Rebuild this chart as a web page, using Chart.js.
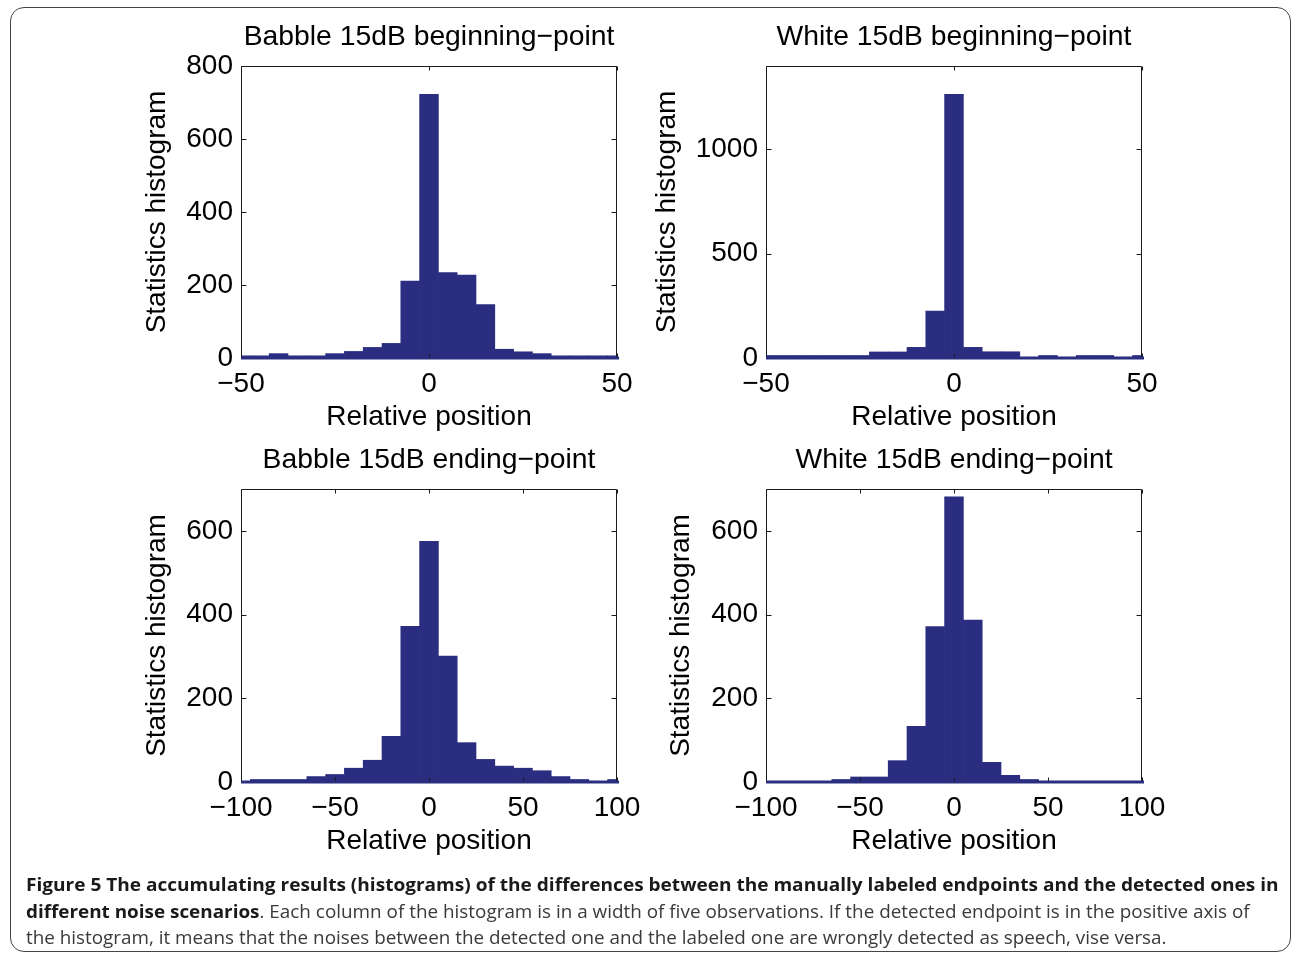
<!DOCTYPE html>
<html><head><meta charset="utf-8">
<script src="https://cdn.jsdelivr.net/npm/chart.js@4.4.1/dist/chart.umd.min.js"></script>
<style>
html,body{margin:0;padding:0;background:#fff;}
body{width:1292px;height:955px;position:relative;overflow:hidden;}
#frame{position:absolute;left:10px;top:7px;width:1281px;height:945px;border:1.5px solid #444;border-radius:14px;box-sizing:border-box;}
canvas{position:absolute;}
.cap{position:absolute;left:26px;white-space:nowrap;font-family:'Open Sans',sans-serif;font-size:18px;line-height:26px;height:26px;color:#3a3a3a;transform-origin:0 50%;}
.cap b{color:#1a1a1a;font-weight:700;}
</style></head>
<body>
<div id="frame"></div>
<canvas id="c1"></canvas>
<canvas id="c2"></canvas>
<canvas id="c3"></canvas>
<canvas id="c4"></canvas>
<div class="cap" id="l1" style="top:871px"><b>Figure 5 The accumulating results (histograms) of the differences between the manually labeled endpoints and the detected ones in</b></div>
<div class="cap" id="l2" style="top:898px"><b>different noise scenarios</b>. Each column of the histogram is in a width of five observations. If the detected endpoint is in the positive axis of</div>
<div class="cap" id="l3" style="top:924px">the histogram, it means that the noises between the detected one and the labeled one are wrongly detected as speech, vise versa.</div>
<script>
// ---- data ----
const binsBegin = [-50,-45,-40,-35,-30,-25,-20,-15,-10,-5,0,5,10,15,20,25,30,35,40,45,50];
const babbleBegin = [6,6,12,6,6,12,18,29,40,211,722,234,227,146,24,17,12,6,6,6,6];
const whiteBegin  = [12,12,12,12,12,12,29,29,51,225,1264,51,30,30,0,12,0,12,12,0,12];
const binsEnd = [-100,-90,-80,-70,-60,-50,-40,-30,-20,-10,0,10,20,30,40,50,60,70,80,90,100];
const babbleEnd = [0,6,6,6,13,18,33,52,109,372,575,301,94,54,38,33,27,13,6,0,6];
const whiteEnd  = [0,0,0,0,6,12,12,51,133,371,681,387,47,16,6,0,0,0,0,0,0];
const xTicksBegin = [-50,0,50];
const xTicksEnd = [-100,-50,0,50,100];
const yTicksBabbleBegin = [0,200,400,600,800];
const yTicksWhiteBegin = [0,500,1000];
const yTicksEnd = [0,200,400,600];
const titles = ['Babble 15dB beginning\u2212point','White 15dB beginning\u2212point','Babble 15dB ending\u2212point','White 15dB ending\u2212point'];

const BAR = '#2b2e80';
const FONT = "'Liberation Sans', Arial, Helvetica, sans-serif";
Chart.defaults.font.family = FONT;
Chart.defaults.color = '#000';

const fmt = v => v < 0 ? '\u2212' + Math.abs(v) : String(v);

const framePlugin = {
  id: 'frame',
  afterDatasetsDraw(chart) {
    const {ctx, chartArea: a, scales: {x, y}} = chart;
    ctx.save();
    ctx.strokeStyle = '#1a1a1a';
    ctx.lineWidth = 1;
    const L = Math.round(a.left) + 0.5, R = Math.round(a.right) - 0.5, T = Math.round(a.top) + 0.5, B = Math.round(a.bottom) - 0.5;
    ctx.beginPath();
    ctx.moveTo(L, B); ctx.lineTo(L, T); ctx.lineTo(R, T); ctx.lineTo(R, B);
    x.ticks.forEach(t => {
      const px = Math.round(x.getPixelForValue(t.value)) + 0.5;
      ctx.moveTo(px, T); ctx.lineTo(px, T + 4);
      ctx.moveTo(px, B); ctx.lineTo(px, B - 4);
    });
    y.ticks.forEach(t => {
      const py = Math.round(y.getPixelForValue(t.value)) + 0.5;
      ctx.moveTo(L, py); ctx.lineTo(L + 5, py);
      ctx.moveTo(R, py); ctx.lineTo(R - 5, py);
    });
    ctx.stroke();
    const y0 = y.getPixelForValue(0);
    ctx.fillStyle = BAR;
    ctx.fillRect(a.left, y0 - 1.5, a.right - a.left + 2, 3);
    ctx.restore();
  }
};

const panels = [
  {id:'c1', title:titles[0], bins:binsBegin, vals:babbleBegin, xmin:-50, xmax:50, ymax:800, xt:xTicksBegin, yt:yTicksBabbleBegin, a:{l:241,t:66,r:617,b:358}, ytp:29.2},
  {id:'c2', title:titles[1], bins:binsBegin, vals:whiteBegin, xmin:-50, xmax:50, ymax:1400, xt:xTicksBegin, yt:yTicksWhiteBegin, a:{l:766,t:66,r:1142,b:358}, ytp:14.2},
  {id:'c3', title:titles[2], bins:binsEnd, vals:babbleEnd, xmin:-100, xmax:100, ymax:700, xt:xTicksEnd, yt:yTicksEnd, a:{l:241,t:489,r:617,b:782}, ytp:29.2},
  {id:'c4', title:titles[3], bins:binsEnd, vals:whiteEnd, xmin:-100, xmax:100, ymax:700, xt:xTicksEnd, yt:yTicksEnd, a:{l:766,t:489,r:1142,b:782}, ytp:28.2}
];

const YW = 130, TH = 60, XH = 90, RP = 40;
panels.forEach(p => {
  const cv = document.getElementById(p.id);
  const w = YW + (p.a.r - p.a.l) + RP;
  const h = TH + (p.a.b - p.a.t) + XH;
  cv.width = w; cv.height = h;
  cv.style.left = (p.a.l - YW) + 'px';
  cv.style.top = (p.a.t - TH) + 'px';
  new Chart(cv, {
    type: 'bar',
    data: { datasets: [{
      data: p.bins.map((b, i) => ({x: b, y: p.vals[i]})),
      backgroundColor: BAR, borderWidth: 0,
      barPercentage: 1, categoryPercentage: 1
    }]},
    options: {
      responsive: false, animation: false, events: [],
      layout: { padding: {left: 0, top: 0, right: RP, bottom: 0} },
      plugins: {
        legend: {display: false}, tooltip: {enabled: false},
        title: { display: true, text: p.title, fullSize: false, color: '#000',
          font: {size: 28.3, weight: 'normal', family: FONT, lineHeight: 1.2},
          padding: {top: 14, bottom: 12.0} }
      },
      scales: {
        x: {
          type: 'linear', min: p.xmin, max: p.xmax, offset: false,
          grid: {display: false}, border: {display: false},
          afterBuildTicks: s => { s.ticks = p.xt.map(v => ({value: v})); },
          afterFit: s => { s.height = XH; },
          ticks: { font: {size: 28, lineHeight: 1.2}, color: '#000', padding: 1, maxRotation: 0, autoSkip: false, callback: v => fmt(v) },
          title: { display: true, text: 'Relative position', color: '#000', font: {size: 28, lineHeight: 1.2}, padding: {top: 0, bottom: 13.5} }
        },
        y: {
          min: 0, max: p.ymax,
          grid: {display: false}, border: {display: false},
          afterBuildTicks: s => { s.ticks = p.yt.map(v => ({value: v})); },
          afterFit: s => { s.width = YW; },
          ticks: { font: {size: 28, lineHeight: 1.2}, color: '#000', padding: 0, callback: v => fmt(v) },
          title: { display: true, text: 'Statistics histogram', color: '#000', font: {size: 28, lineHeight: 1.2}, padding: {top: p.ytp, bottom: 0} }
        }
      }
    },
    plugins: [framePlugin]
  });
});

// fit caption lines to the reference widths
[['l1', 1252], ['l2', 1224], ['l3', 1141]].forEach(([id, tw]) => {
  const el = document.getElementById(id);
  const w = el.scrollWidth;
  el.style.transform = 'scaleX(' + (tw / w) + ')';
});
</script>
</body></html>
